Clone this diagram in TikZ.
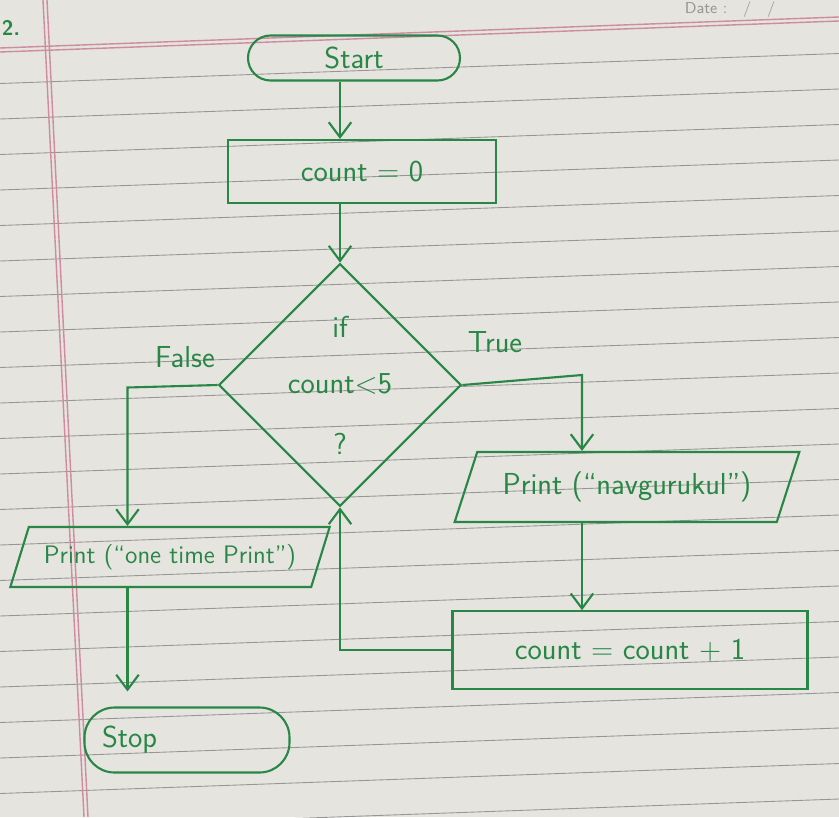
\documentclass[tikz,border=0pt]{standalone}
\usepackage{tikz}
\usetikzlibrary{arrows.meta, positioning, shapes.geometric}

\definecolor{ink}{RGB}{40,135,70}
\definecolor{paper}{RGB}{229,228,222}
\definecolor{ruling}{RGB}{150,150,150}
\definecolor{margin}{RGB}{205,140,160}

\begin{document}
\begin{tikzpicture}[
    every node/.style={draw=ink, very thick, text=ink, font=\sffamily\LARGE},
    pill/.style={rectangle, rounded corners=0.45cm},
    box/.style={rectangle},
    decide/.style={diamond, align=center, inner sep=0pt},
    io/.style={trapezium, trapezium stretches=true, trapezium left angle=65, trapezium right angle=115},
    flow/.style={ink, very thick, -{Straight Barb[length=3mm, width=4.5mm]}},
    tag/.style={draw=none, text=ink},
    rule/.style={ruling, line width=0.5pt}]
    \useasboundingbox (0,0) rectangle (16.78,-16.34);
    % notebook page
    \begin{scope}
      \clip (0,0) rectangle (16.78,-16.34);
      \fill[paper] (0,0) rectangle (16.78,-16.34);
      \foreach \k in {1,...,23}
        \draw[rule] (0,{-(48+35.5*\k)/50}) -- (16.78,{-(18+35.5*\k)/50});
      \draw[margin, line width=0.8pt] (0,-0.96) -- (16.78,-0.34);
      \draw[margin, line width=0.8pt] (0,-1.04) -- (16.78,-0.42);
      \draw[margin, line width=0.8pt] (0.86,0) -- (1.68,-16.34);
      \draw[margin, line width=0.8pt] (0.94,0) -- (1.76,-16.34);
    \end{scope}
    \node[tag, font=\sffamily\large\bfseries] (num) at (0.22,-0.56) {2.};
    \node[tag, text=ruling, font=\sffamily\small, inner sep=1pt] (date) at (14.6,-0.2) {Date :\quad /\quad /};

    % flowchart
    \node[pill, minimum width=4.24cm, minimum height=0.9cm] (start) at (7.08,-1.16) {Start};
    \node[box, minimum width=5.36cm, minimum height=1.26cm] (init) at (7.24,-3.43) {count = 0};
    \node[decide, minimum width=3.6cm, minimum height=4.0cm] (dia) at (6.8,-7.7)
      {if\\[0.35cm] count${<}$5\\[0.45cm] ?};
    \node[io, minimum width=6.9cm, minimum height=1.4cm] (pnav) at (12.54,-9.74) {Print (``navgurukul'')};
    \node[box, minimum width=7.1cm, minimum height=1.55cm] (inc) at (12.6,-13.0) {count = count + 1};
    \node[io, minimum width=6.4cm, minimum height=1.2cm, font=\sffamily\Large] (pone) at (3.4,-11.14) {Print (``one time Print'')};
    \node[pill, minimum width=4.1cm, minimum height=1.3cm, rounded corners=0.6cm,
      text width=3.4cm, align=left] (stop) at (3.74,-14.8) {Stop};

    \coordinate (tturn) at (11.64,-7.5);
    \coordinate (fturn) at (2.55,-7.75);
    \node[tag] (true) at (9.9,-6.85) {True};
    \node[tag] (false) at (3.7,-7.15) {False};

    \draw[flow] (start.south -| dia.north) -- (init.north -| dia.north);
    \draw[flow] (init.south -| dia.north) -- (dia.north);
    \draw[flow] (dia.east) -- (tturn) -- (tturn |- pnav.north);
    \draw[flow] (tturn |- pnav.south) -- (tturn |- inc.north);
    \draw[flow] (inc.west) -| (dia.south);
    \draw[flow] (dia.west) -- (fturn) -- (fturn |- pone.north);
    \draw[flow] (fturn |- pone.south) -- ([yshift=0.3cm]fturn |- stop.north);
  \end{tikzpicture}
\end{document}
